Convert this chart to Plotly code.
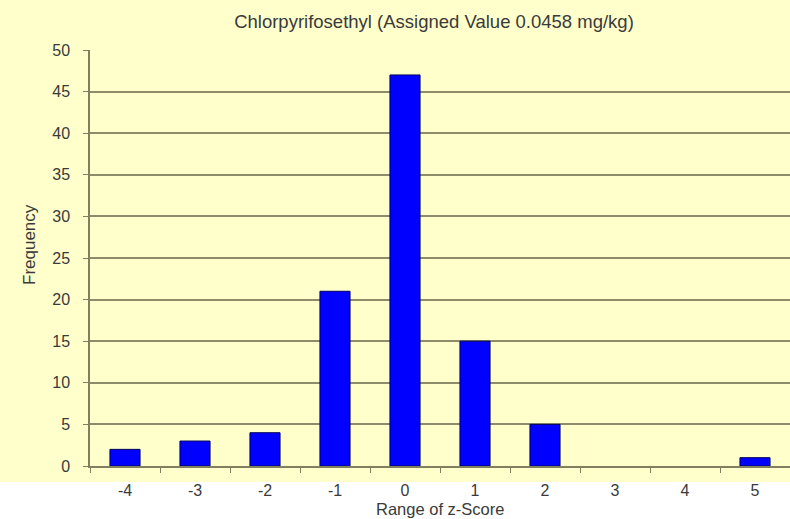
import plotly.graph_objects as go

categories = ["-4", "-3", "-2", "-1", "0", "1", "2", "3", "4", "5"]
frequency = [2, 3, 4, 21, 47, 15, 5, 0, 0, 1]
title_text = "Chlorpyrifosethyl (Assigned Value 0.0458 mg/kg)"
x_title = "Range of z-Score"
y_title = "Frequency"

W, H = 790, 519
ml, mr, mt, mb = 90, 0, 50, 53
pw, ph = W - ml - mr, H - mt - mb

fig = go.Figure()
fig.add_trace(go.Bar(
    x=categories, y=frequency,
    marker=dict(color="#0000FF",
                line=dict(color="#00005A", width=[1 if v > 0 else 0 for v in frequency])),
    width=0.43,
))

fig.add_shape(type="rect", xref="paper", yref="paper",
              x0=-ml / pw - 0.01, x1=1 + 5 / pw, y0=-16 / ph, y1=1 + mt / ph + 0.01,
              fillcolor="#FFFFCC", line=dict(width=0), layer="below")

txt = "#3a3a3a"
fig.add_annotation(text=x_title, xref="paper", yref="paper",
                   x=(440 - ml) / pw, y=-(509 - (H - mb)) / ph,
                   xanchor="center", yanchor="middle", showarrow=False,
                   font=dict(size=16.5, color=txt))
fig.add_annotation(text=y_title, xref="paper", yref="paper",
                   x=-(ml - 29) / pw, y=((H - mb) - 245) / ph, textangle=-90,
                   xanchor="center", yanchor="middle", showarrow=False,
                   font=dict(size=17, color=txt))

fig.update_layout(
    width=W, height=H,
    margin=dict(l=ml, r=mr, t=mt, b=mb),
    paper_bgcolor="white",
    plot_bgcolor="rgba(0,0,0,0)",
    font=dict(family="Liberation Sans, Arial, sans-serif", color=txt, size=16),
    title=dict(text=title_text, x=434 / W, xref="container", xanchor="center",
               y=1 - 22 / H, yref="container", yanchor="middle",
               font=dict(size=18.5, color=txt)),
    showlegend=False,
    xaxis=dict(
        type="category", range=[-0.5, 9.5],
        tickson="boundaries", ticks="outside", ticklen=5, tickcolor="#808060",
        showline=True, linecolor="#808060", linewidth=1.5,
        showgrid=False, zeroline=False,
        tickfont=dict(size=16), ticklabelstandoff=9,
    ),
    yaxis=dict(
        range=[0, 50], dtick=5, tick0=0,
        ticks="outside", ticklen=5, tickcolor="#808060",
        showline=True, linecolor="#808060", linewidth=1.5,
        showgrid=True, gridcolor="#8C8C6A", gridwidth=1.5,
        zeroline=False,
        tickfont=dict(size=16), ticklabelstandoff=10,
    ),
)

fig.write_html("out.html", config={"displayModeBar": False},
               post_script="document.body.style.margin='0';")
